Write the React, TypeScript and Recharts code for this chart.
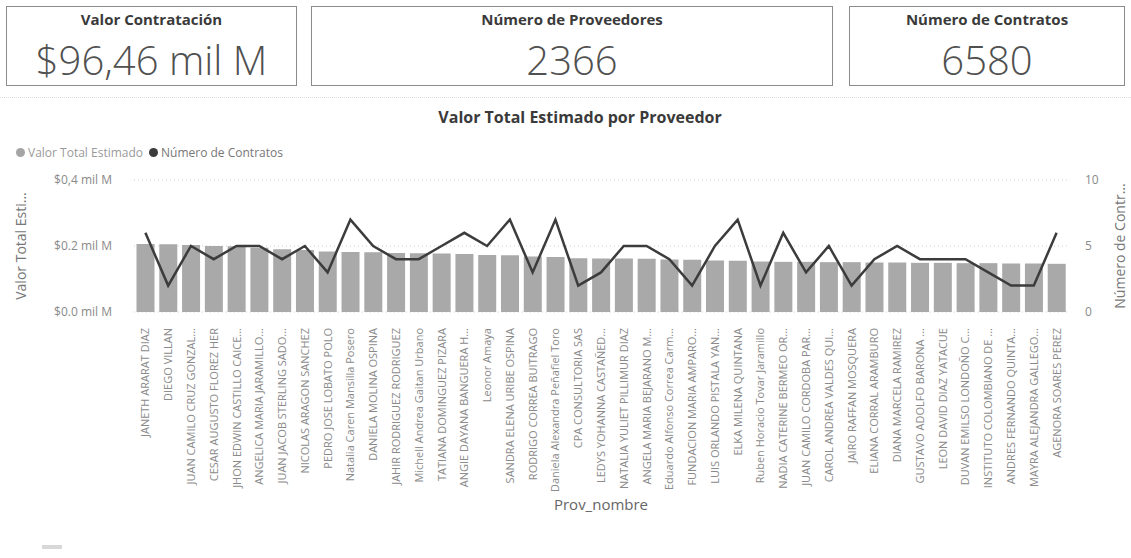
import React from 'react';
import {
  ComposedChart,
  Bar,
  Line,
  XAxis,
  YAxis,
  CartesianGrid
} from 'recharts';

const proveedores = [
  'JANETH ARARAT DIAZ',
  'DIEGO VILLAN',
  'JUAN CAMILO CRUZ GONZAL...',
  'CESAR AUGUSTO FLOREZ HER',
  'JHON EDWIN CASTILLO CAICE...',
  'ANGELICA MARIA JARAMILLO...',
  'JUAN JACOB STERLING SADO...',
  'NICOLAS ARAGON SANCHEZ',
  'PEDRO JOSE LOBATO POLO',
  'Natalia Caren Mansilla Posero',
  'DANIELA MOLINA OSPINA',
  'JAHIR RODRIGUEZ RODRIGUEZ',
  'Michell Andrea Gaitan Urbano',
  'TATIANA DOMINGUEZ PIZARA',
  'ANGIE DAYANA BANGUERA H...',
  'Leonor Amaya',
  'SANDRA ELENA URIBE OSPINA',
  'RODRIGO CORREA BUITRAGO',
  'Daniela Alexandra Peñafiel Toro',
  'CPA CONSULTORIA SAS',
  'LEDYS YOHANNA CASTAÑED...',
  'NATALIA YULIET PILLIMUR DIAZ',
  'ANGELA MARIA BEJARANO M...',
  'Eduardo Alfonso Correa Carm...',
  'FUNDACION MARIA AMPARO...',
  'LUIS ORLANDO PISTALA YAN...',
  'ELKA MILENA QUINTANA',
  'Ruben Horacio Tovar Jaramillo',
  'NADIA CATERINE BERMEO OR...',
  'JUAN CAMILO CORDOBA PAR...',
  'CAROL ANDREA VALDES QUI...',
  'JAIRO RAFFAN MOSQUERA',
  'ELIANA CORRAL ARAMBURO',
  'DIANA MARCELA RAMIREZ',
  'GUSTAVO ADOLFO BARONA ...',
  'LEON DAVID DIAZ YATACUE',
  'DUVAN EMILSO LONDOÑO C...',
  'INSTITUTO COLOMBIANO DE ...',
  'ANDRES FERNANDO QUINTA...',
  'MAYRA ALEJANDRA GALLEGO...',
  'AGENORA SOARES PEREZ'
];

// valor total estimado, en mil millones
const valorTotal = [
  0.206, 0.205, 0.203, 0.2, 0.199, 0.195, 0.19, 0.188, 0.183, 0.182,
  0.181, 0.179, 0.178, 0.177, 0.176, 0.173, 0.172, 0.168, 0.167, 0.163,
  0.162, 0.162, 0.161, 0.159, 0.158, 0.156, 0.155, 0.153, 0.152, 0.152,
  0.151, 0.151, 0.15, 0.15, 0.149, 0.149, 0.148, 0.148, 0.147, 0.147, 0.146
];

const numContratos = [
  6, 2, 5, 4, 5, 5, 4, 5, 3, 7,
  5, 4, 4, 5, 6, 5, 7, 3, 7, 2,
  3, 5, 5, 4, 2, 5, 7, 2, 6, 3,
  5, 2, 4, 5, 4, 4, 4, 3, 2, 2, 6
];

const valorTicks = [0, 0.2, 0.4];
const valorTickLabels = ['$0.0 mil M', '$0.2 mil M', '$0,4 mil M'];
const contratosTicks = [0, 5, 10];

const tarjetas = [
  { titulo: 'Valor Contratación', valor: '$96,46 mil M', left: 6, width: 291 },
  { titulo: 'Número de Proveedores', valor: '2366', left: 311, width: 522 },
  { titulo: 'Número de Contratos', valor: '6580', left: 849, width: 276 }
];

const data = proveedores.map((name, i) => ({
  name,
  valor: valorTotal[i],
  contratos: numContratos[i]
}));

const FONT = '"Open Sans", "Noto Sans", sans-serif';

const NameTick = (props: any) => {
  const { x, y, payload } = props;
  return (
    <g transform={`translate(${x},${y + 8})`}>
      <text
        transform="rotate(-90)"
        textAnchor="end"
        dy={4}
        fontSize={11}
        fontFamily={FONT}
        fill="#8a8a8a"
      >
        {payload.value}
      </text>
    </g>
  );
};

const SideTitle = (props: any) => {
  const { viewBox, value, cx } = props;
  const cy = viewBox.y + viewBox.height / 2;
  return (
    <text
      x={cx}
      y={cy}
      transform={`rotate(-90, ${cx}, ${cy})`}
      textAnchor="middle"
      dominantBaseline="central"
      fontSize={14}
      fontFamily={FONT}
      fill="#777"
    >
      {value}
    </text>
  );
};

export default function App() {
  return (
    <div style={{ position: 'relative', width: 1131, height: 558, background: '#fff', fontFamily: FONT, overflow: 'hidden' }}>
      <style>{'body{margin:0}'}</style>

      {tarjetas.map((t) => (
        <div
          key={t.titulo}
          style={{
            position: 'absolute',
            left: t.left,
            top: 6,
            width: t.width,
            height: 80,
            border: '1px solid #8c8c8c',
            boxSizing: 'border-box',
            textAlign: 'center'
          }}
        >
          <div style={{ fontSize: 15, fontWeight: 700, color: '#3a3a3a', marginTop: 2, lineHeight: '20px' }}>
            {t.titulo}
          </div>
          <div style={{ fontSize: 40, fontWeight: 300, color: '#505050', lineHeight: '44px', marginTop: 9 }}>
            {t.valor}
          </div>
        </div>
      ))}

      <div style={{ position: 'absolute', left: 0, top: 97, width: 1131, borderTop: '1px dotted #ddd' }} />

      <div
        style={{
          position: 'absolute',
          left: 0,
          top: 106,
          width: 1160,
          textAlign: 'center',
          fontSize: 16,
          fontWeight: 700,
          color: '#3a3a3a'
        }}
      >
        Valor Total Estimado por Proveedor
      </div>

      <div style={{ position: 'absolute', left: 16, top: 144, fontSize: 12, color: '#9a9a9a', display: 'flex', alignItems: 'center' }}>
        <span style={{ display: 'inline-block', width: 9, height: 9, borderRadius: 5, background: '#a5a5a5', marginRight: 3 }} />
        <span>Valor Total Estimado</span>
        <span style={{ display: 'inline-block', width: 9, height: 9, borderRadius: 5, background: '#3c3c3c', marginLeft: 6, marginRight: 3 }} />
        <span style={{ color: '#777' }}>Número de Contratos</span>
      </div>

      <div style={{ position: 'absolute', left: 0, top: 138 }}>
        <ComposedChart
          width={1131}
          height={420}
          data={data}
          margin={{ top: 42, right: 0, bottom: 46, left: 0 }}
          barCategoryGap="11%"
        >
          <CartesianGrid yAxisId="left" vertical={false} strokeDasharray="1 3" stroke="#cfcfcf" />
          <XAxis
            dataKey="name"
            interval={0}
            height={200}
            tickLine={false}
            axisLine={false}
            tick={<NameTick />}
            label={{ value: 'Prov_nombre', position: 'insideBottom', offset: 2, fontSize: 15, fill: '#666', fontFamily: FONT }}
          />
          <YAxis
            yAxisId="left"
            width={134}
            domain={[0, 0.4]}
            ticks={valorTicks}
            tickFormatter={(v: number) => valorTickLabels[valorTicks.indexOf(v)]}
            tickLine={false}
            axisLine={false}
            tickSize={0}
            tickMargin={22}
            tick={{ fontSize: 12, fill: '#8a8a8a', fontFamily: FONT }}
            label={(p: any) => <SideTitle {...p} value="Valor Total Esti..." cx={20} />}
          />
          <YAxis
            yAxisId="right"
            orientation="right"
            width={63}
            domain={[0, 10]}
            ticks={contratosTicks}
            tickLine={false}
            axisLine={false}
            tickSize={0}
            tickMargin={17}
            tick={{ fontSize: 12, fill: '#8a8a8a', fontFamily: FONT }}
            label={(p: any) => <SideTitle {...p} value="Número de Contr..." cx={1119} />}
          />
          <Bar yAxisId="left" dataKey="valor" fill="#a9a9a9" isAnimationActive={false} />
          <Line
            yAxisId="right"
            type="linear"
            dataKey="contratos"
            stroke="#3c3c3c"
            strokeWidth={2.5}
            dot={false}
            activeDot={false}
            isAnimationActive={false}
          />
        </ComposedChart>
      </div>

      <div style={{ position: 'absolute', left: 42, top: 545, width: 20, height: 4, background: '#d8d8d8' }} />
    </div>
  );
}
